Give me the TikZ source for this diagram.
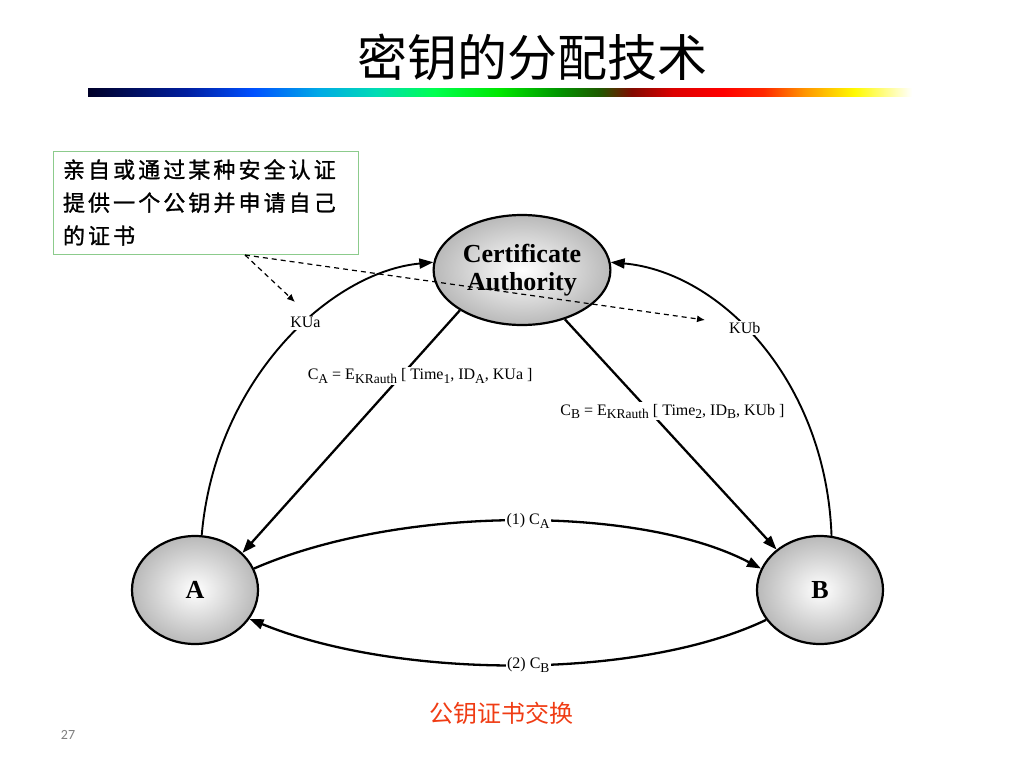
\documentclass[tikz,border=0pt]{standalone}
\usepackage{fontspec}
\setmainfont{Liberation Serif}
\setsansfont{Carlito}
\newfontfamily\cjk{Noto Sans CJK SC}
\newfontfamily\cjkmid[FakeBold=1.2, LetterSpace=14]{Noto Sans CJK SC}
\usetikzlibrary{arrows.meta, positioning, shapes.geometric, calc}
\definecolor{cgreen}{HTML}{8CCB8C}
\definecolor{cred}{HTML}{F03C14}
\definecolor{cgrey}{HTML}{7F7F7F}
\definecolor{rb0}{RGB}{0,0,40}
\definecolor{rb1}{RGB}{0,30,160}
\definecolor{rb2}{RGB}{0,80,255}
\definecolor{rb3}{RGB}{0,170,230}
\definecolor{rb4}{RGB}{0,220,180}
\definecolor{rb5}{RGB}{0,255,80}
\definecolor{rb6}{RGB}{0,230,0}
\definecolor{rb7}{RGB}{0,150,0}
\definecolor{rb8}{RGB}{30,90,0}
\definecolor{rb9}{RGB}{130,10,0}
\definecolor{rb10}{RGB}{220,0,0}
\definecolor{rb11}{RGB}{255,0,0}
\definecolor{rb12}{RGB}{255,40,0}
\definecolor{rb13}{RGB}{255,150,0}
\definecolor{rb14}{RGB}{255,250,0}
\definecolor{rb15}{RGB}{255,255,255}
% the path covers 25bp to 75bp of the shading
\pgfdeclarehorizontalshading{rainbowbar}{100bp}{color(0bp)=(rb0); color(25bp)=(rb0); color(31bp)=(rb1);
  color(35bp)=(rb2); color(39bp)=(rb3); color(42.5bp)=(rb4); color(46bp)=(rb5);
  color(50bp)=(rb6); color(53.5bp)=(rb7); color(56bp)=(rb8); color(58bp)=(rb9);
  color(60.5bp)=(rb10); color(63.5bp)=(rb11); color(66bp)=(rb12); color(68.5bp)=(rb13);
  color(71.5bp)=(rb14); color(75bp)=(rb15); color(100bp)=(rb15)}
\newcommand{\lowtext}[1]{\raisebox{-3.5pt}{\fontsize{13.5pt}{14pt}\selectfont #1}}
\tikzset{
  every picture/.style={line width=2pt},
  party/.style={ellipse, draw=black, line width=2.2pt, inner color=white, outer color=gray!55,
    font=\fontsize{26pt}{30pt}\selectfont\bfseries, align=center},
  flow/.style={-{Triangle[length=14pt, width=10pt]}, draw=black, line width=2.3pt},
  hint/.style={-{Latex[length=8pt, width=7pt]}, dash pattern=on 5pt off 4pt, line width=1.2pt},
  tag/.style={fill=white, inner sep=1.5pt, font=\fontsize{16pt}{18pt}\selectfont},
}

\begin{document}
\begin{tikzpicture}[x=1pt, y=-1pt]
  \useasboundingbox[fill=white] (0,0) rectangle (1024,768);
  % title and bar
  \node[font=\cjk\fontsize{50pt}{54pt}\selectfont] (title) at (532,57) {密钥的分配技术};
  \shade[shading=rainbowbar] (88,88) rectangle (912,96);
  % note box
  \node[draw=cgreen, line width=1pt, minimum width=305pt, minimum height=103pt, text width=285pt,
    align=left, font=\cjkmid\fontsize{22pt}{33pt}\selectfont] (note) at (205.5,202.5)
    {亲自或通过某种安全认证\\提供一个公钥并申请自己\\的证书};
  % parties
  \node[party, minimum width=144pt, minimum height=110pt] (ca) at (522,270) {Certificate\\[-2pt]Authority};
  \node[party, minimum width=126pt, minimum height=108pt] (a) at (195,590) {A};
  \node[party, minimum width=126pt, minimum height=108pt] (b) at (820,590) {B};
  % public keys to the CA
  \draw[flow, line width=1.9pt] (a.83) .. controls (215,380) and (330,272) .. (ca.175)
    node[tag, pos=0.58] {KUa};
  \draw[flow, line width=1.9pt] (b.78) .. controls (826,380) and (720,272) .. (ca.5)
    node[tag, pos=0.56] {KUb};
  % certificates from the CA
  \draw[flow] (ca.213) -- (a.38)
    node[tag, pos=0.27, xshift=19pt] {C\lowtext{A} = E\lowtext{KRauth} [ Time\lowtext{1}, ID\lowtext{A}, KUa ]};
  \draw[flow] (ca.311) -- (b.137)
    node[tag, pos=0.4, xshift=23pt] {C\lowtext{B} = E\lowtext{KRauth} [ Time\lowtext{2}, ID\lowtext{B}, KUb ]};
  % exchange between A and B
  \draw[flow] (a.20) .. controls (400,505) and (640,505) .. (b.160)
    node[tag, pos=0.52] {(1) C\lowtext{A}};
  \draw[flow] (b.209) .. controls (640,680) and (400,680) .. (a.332)
    node[tag, pos=0.48] {(2) C\lowtext{B}};
  % hint arrows
  \coordinate (tail) at (245,255);
  \coordinate (hinta) at (295,302);
  \coordinate (hintb) at (705,320);
  \draw[hint] (tail) -- (hinta);
  \draw[hint] (tail) -- (hintb);
  % caption and page number
  \node[font=\cjk\fontsize{24pt}{26pt}\selectfont, text=cred] (caption) at (501,713) {公钥证书交换};
  \node[font=\sffamily\fontsize{14pt}{16pt}\selectfont, text=cgrey] (page) at (68,735) {27};
\end{tikzpicture}
\end{document}
